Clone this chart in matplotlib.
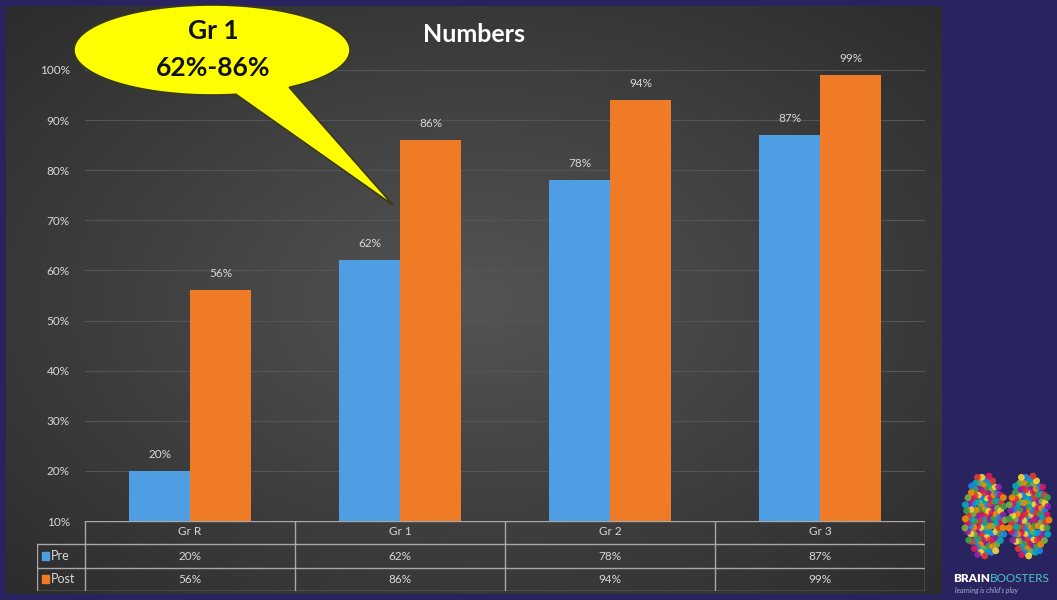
import numpy as np
import matplotlib
matplotlib.use("Agg")
import matplotlib.pyplot as plt
from matplotlib.patches import Polygon, Rectangle, Circle

plt.rcParams['font.family'] = ['Lato', 'DejaVu Sans']

grades = ['Gr R', 'Gr 1', 'Gr 2', 'Gr 3']
pre = [20, 62, 78, 87]
post = [56, 86, 94, 99]
series_names = ['Pre', 'Post']
yticks = [10, 20, 30, 40, 50, 60, 70, 80, 90, 100]

navy = '#29235f'
blue = '#4f9ee3'
orange = '#f07b27'
light = '#d8d8d8'
line_col = '#a8a8a8'

W, H = 1057, 600
fig = plt.figure(figsize=(W / 100, H / 100), dpi=100, facecolor=navy)


def fbox(x0, y0, x1, y1):
    # pixel box (top-left origin) -> figure fraction rect
    return [x0 / W, 1 - y1 / H, (x1 - x0) / W, (y1 - y0) / H]


# dark panel with a soft radial glow
bg = fig.add_axes(fbox(6, 6, 942, 594))
bg.set_axis_off()
gx, gy = np.meshgrid(np.linspace(-1, 1, 300), np.linspace(-1, 1, 200))
r = np.sqrt(gx ** 2 + gy ** 2)
glow = np.clip(1 - r / 1.45, 0, 1)
shade = 0.17 + 0.16 * glow
img = np.dstack([shade, shade, shade])
bg.imshow(img, extent=[0, 1, 0, 1], aspect='auto')

# main chart
ax = fig.add_axes(fbox(85, 70, 925, 521))
ax.set_facecolor('none')
x = np.arange(len(grades))
bw = 0.29
b1 = ax.bar(x - bw / 2, pre, bw, bottom=0, color=blue, zorder=3)
b2 = ax.bar(x + bw / 2, post, bw, bottom=0, color=orange, zorder=3)
ax.set_xlim(-0.5, len(grades) - 0.5)
ax.set_ylim(10, 100)
ax.set_yticks(yticks)
ax.set_yticklabels([f'{v}%' for v in yticks], color=light, fontsize=8.5)
ax.tick_params(axis='y', length=0, pad=11)
ax.set_xticks([])
for s in ax.spines.values():
    s.set_visible(False)
for v in yticks[1:]:
    ax.axhline(v, color='#555555', lw=0.8, zorder=1)

for bars, vals in ((b1, pre), (b2, post)):
    for rect, v in zip(bars, vals):
        ax.annotate(f'{v}%', (rect.get_x() + rect.get_width() / 2, v),
                    xytext=(0, 8), textcoords='offset points',
                    ha='center', va='bottom', color=light, fontsize=8.5,
                    annotation_clip=False)

fig.text(474 / W, 1 - 35 / H, 'Numbers', color='white', fontsize=18,
         fontweight='bold', ha='center', va='center')

# data table under the axis
tab = fig.add_axes(fbox(37, 521, 925, 591))
tab.set_axis_off()
lab_w = 48 / 210
tab.set_xlim(-0.5 - lab_w, len(grades) - 0.5)
tab.set_ylim(3, 0)
kw = dict(color=line_col, lw=1)
tab.plot([-0.5, len(grades) - 0.5], [0, 0], **kw)
for yy in (1, 2, 3):
    tab.plot([-0.5 - lab_w, len(grades) - 0.5], [yy, yy], **kw)
for i in range(len(grades) + 1):
    tab.plot([i - 0.5, i - 0.5], [0, 3], **kw)
tab.plot([-0.5 - lab_w, -0.5 - lab_w], [1, 3], **kw)
for i, g in enumerate(grades):
    tab.text(i, 0.45, g, ha='center', va='center', color=light, fontsize=8.5)
    tab.text(i, 1.5, f'{pre[i]}%', ha='center', va='center', color=light, fontsize=8.5)
    tab.text(i, 2.5, f'{post[i]}%', ha='center', va='center', color=light, fontsize=8.5)
for row, (name, col) in enumerate(zip(series_names, (blue, orange))):
    tab.add_patch(Rectangle((-0.5 - lab_w + 0.025, row + 1.33), 0.03, 0.34,
                            color=col))
    tab.text(-0.5 - lab_w + 0.065, row + 1.5, name, ha='left', va='center',
             color=light, fontsize=9)

# overlay in pixel coordinates for the callout and the logo
ov = fig.add_axes([0, 0, 1, 1])
ov.set_xlim(0, W)
ov.set_ylim(H, 0)
ov.set_axis_off()

cx, cy, a, b = 212, 50, 138, 45
t0, t1 = np.deg2rad(80), np.deg2rad(56) + 2 * np.pi
t = np.linspace(t0, t1, 200)
pts = np.column_stack([cx + a * np.cos(t), cy + b * np.sin(t)])
pts = np.vstack([pts, [[393, 205]]])
ov.add_patch(Polygon(pts, closed=True, facecolor='#ffff00',
                     edgecolor='#3a3a10', lw=1.2, zorder=5))
ov.text(213, 31, 'Gr 1', ha='center', va='center', fontsize=19,
        fontweight='bold', color='#111111', zorder=6)
ov.text(213, 68, '62%-86%', ha='center', va='center', fontsize=19,
        fontweight='bold', color='#111111', zorder=6)

# logo: two hemispheres of small coloured blobs
palette = ['#e53935', '#fb8c00', '#fdd835', '#43a047', '#1e88e5',
           '#8e24aa', '#00acc1', '#d81b60', '#7cb342']
golden = np.pi * (3 - np.sqrt(5))
n = 120
for k, hx in enumerate((985, 1029)):
    for i in range(n):
        rr = np.sqrt((i + 0.5) / n)
        th = i * golden
        px = hx + 21 * rr * np.cos(th)
        py = 516 + 42 * rr * np.sin(th)
        c = palette[(i * 4 + k * 2) % len(palette)]
        ov.add_patch(Circle((px, py), 3.4, color=c, alpha=0.9, lw=0))
brain = ov.text(953, 578, 'BRAIN', ha='left', va='center', fontsize=8.5,
                fontweight='heavy', color='white')
fig.canvas.draw()
bb = brain.get_window_extent()
ov.text(953 + bb.width, 578, 'BOOSTERS', ha='left', va='center',
        fontsize=8.5, color='#4fc3c8')
ov.text(955, 590, "learning is child's play", ha='left', va='center',
        fontsize=5, style='italic', color='#9fb0d0')

fig.savefig('out.png', dpi=100, facecolor=navy)
